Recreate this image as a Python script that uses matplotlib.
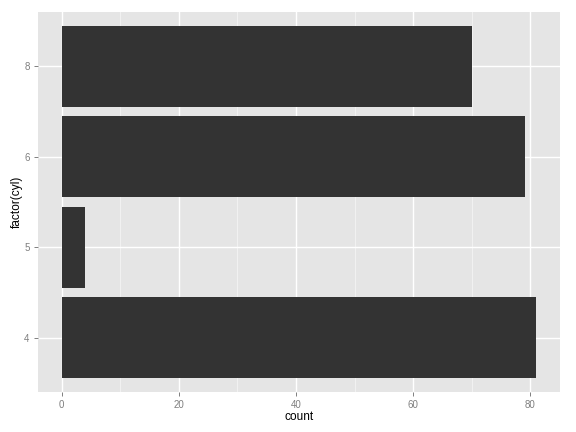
import matplotlib
matplotlib.use("Agg")
import matplotlib.pyplot as plt

plt.rcParams['font.family'] = ['Liberation Sans', 'DejaVu Sans']

categories = ["4", "5", "6", "8"]
counts = [81, 4, 79, 70]

fig = plt.figure(figsize=(5.76, 4.32), dpi=100)
ax = fig.add_axes([38/576, 1-392/432, (560-38)/576, (392-12)/432])
ax.set_facecolor("#E5E5E5")
pos = list(range(1, len(categories)+1))
ax.barh(pos, counts, height=0.9, color="#333333", zorder=3)
ax.set_xlim(-4.05, 85.05)
ax.set_ylim(0.4, 4.6)
ax.set_xticks([0, 20, 40, 60, 80])
ax.set_xticks([10, 30, 50, 70], minor=True)
ax.set_yticks(pos)
ax.set_yticklabels(categories)
ax.grid(which="major", color="white", linewidth=1.0, zorder=1)
ax.grid(which="minor", axis="x", color="#F2F2F2", linewidth=0.7, zorder=0)
for s in ax.spines.values():
    s.set_visible(False)
ax.tick_params(which="major", colors="#7F7F7F", labelsize=7, length=3, width=0.7, pad=3)
ax.tick_params(which="minor", length=0)
ax.set_xlabel("count", fontsize=8.6, va="center")
ax.set_ylabel("factor(cyl)", fontsize=8.6, va="center")
ax.xaxis.set_label_coords(0.5, (392-417)/380)
ax.yaxis.set_label_coords((17-38)/522, 0.5)
fig.savefig("out.png", dpi=100)
